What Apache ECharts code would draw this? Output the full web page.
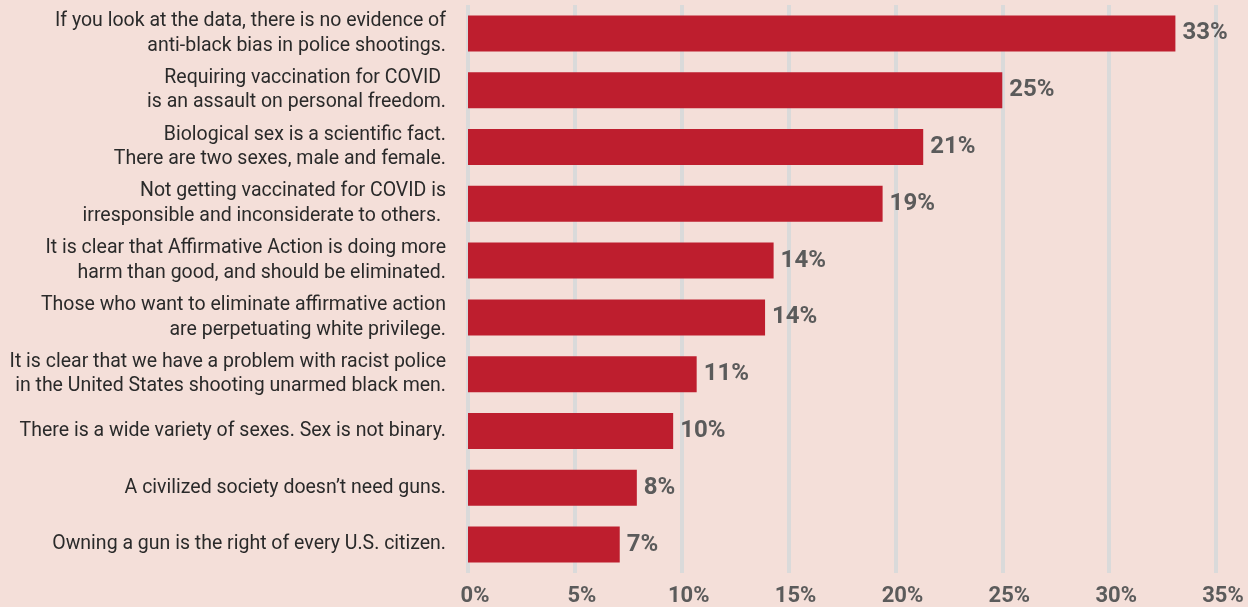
<!DOCTYPE html>
<html>
<head>
<meta charset="utf-8">
<script src="https://cdn.jsdelivr.net/npm/echarts@6/dist/echarts.min.js"></script>
<style>
html,body{margin:0;padding:0;background:#f4dfd9;}
#chart{width:1248px;height:607px;}
</style>
</head>
<body>
<div id="chart"></div>
<script>
const categories = [
  "If you look at the data, there is no evidence of\nanti-black bias in police shootings.",
  "Requiring vaccination for COVID \nis an assault on personal freedom.",
  "Biological sex is a scientific fact.\nThere are two sexes, male and female.",
  "Not getting vaccinated for COVID is\nirresponsible and inconsiderate to others. ",
  "It is clear that Affirmative Action is doing more\nharm than good, and should be eliminated.",
  "Those who want to eliminate affirmative action\nare perpetuating white privilege.",
  "It is clear that we have a problem with racist police\nin the United States shooting unarmed black men.",
  "There is a wide variety of sexes. Sex is not binary.",
  "A civilized society doesn\u2019t need guns.",
  "Owning a gun is the right of every U.S. citizen."
];
const values = [33.1, 25.0, 21.3, 19.4, 14.3, 13.9, 10.7, 9.6, 7.9, 7.1];
const valueLabels = ["33%", "25%", "21%", "19%", "14%", "14%", "11%", "10%", "8%", "7%"];
const xTicks = [0, 5, 10, 15, 20, 25, 30, 35];

const chart = echarts.init(document.getElementById('chart'), null, {renderer: 'canvas'});
chart.setOption({
  backgroundColor: '#f4dfd9',
  animation: false,
  grid: {left: 468, right: 32, top: 5, bottom: 34, containLabel: false},
  xAxis: {
    type: 'value',
    min: xTicks[0], max: xTicks[xTicks.length - 1], interval: 5,
    axisLine: {show: false},
    axisTick: {show: false},
    splitLine: {show: true, lineStyle: {color: '#dadada', width: 4}},
    axisLabel: {
      formatter: v => v + '%',
      fontFamily: 'Roboto', fontWeight: 'bold', fontSize: 22, color: '#5b5b5b',
      margin: 12, padding: [0, 0, 0, 14]
    }
  },
  yAxis: {
    type: 'category',
    inverse: true,
    data: categories,
    axisLine: {show: false},
    axisTick: {show: false},
    splitLine: {show: false},
    axisLabel: {
      fontFamily: 'Roboto, sans-serif',
      fontSize: 19.5, color: '#2a2a2a', lineHeight: 24.5, margin: 22, align: 'right'
    }
  },
  series: [{
    type: 'bar',
    data: values,
    barWidth: 36,
    itemStyle: {color: '#be1e2e'},
    label: {
      show: true, position: 'right', distance: 7,
      formatter: p => valueLabels[p.dataIndex],
      fontFamily: 'Roboto', fontWeight: 'bold', fontSize: 24, color: '#5b5b5b'
    }
  }]
});
</script>
</body>
</html>
